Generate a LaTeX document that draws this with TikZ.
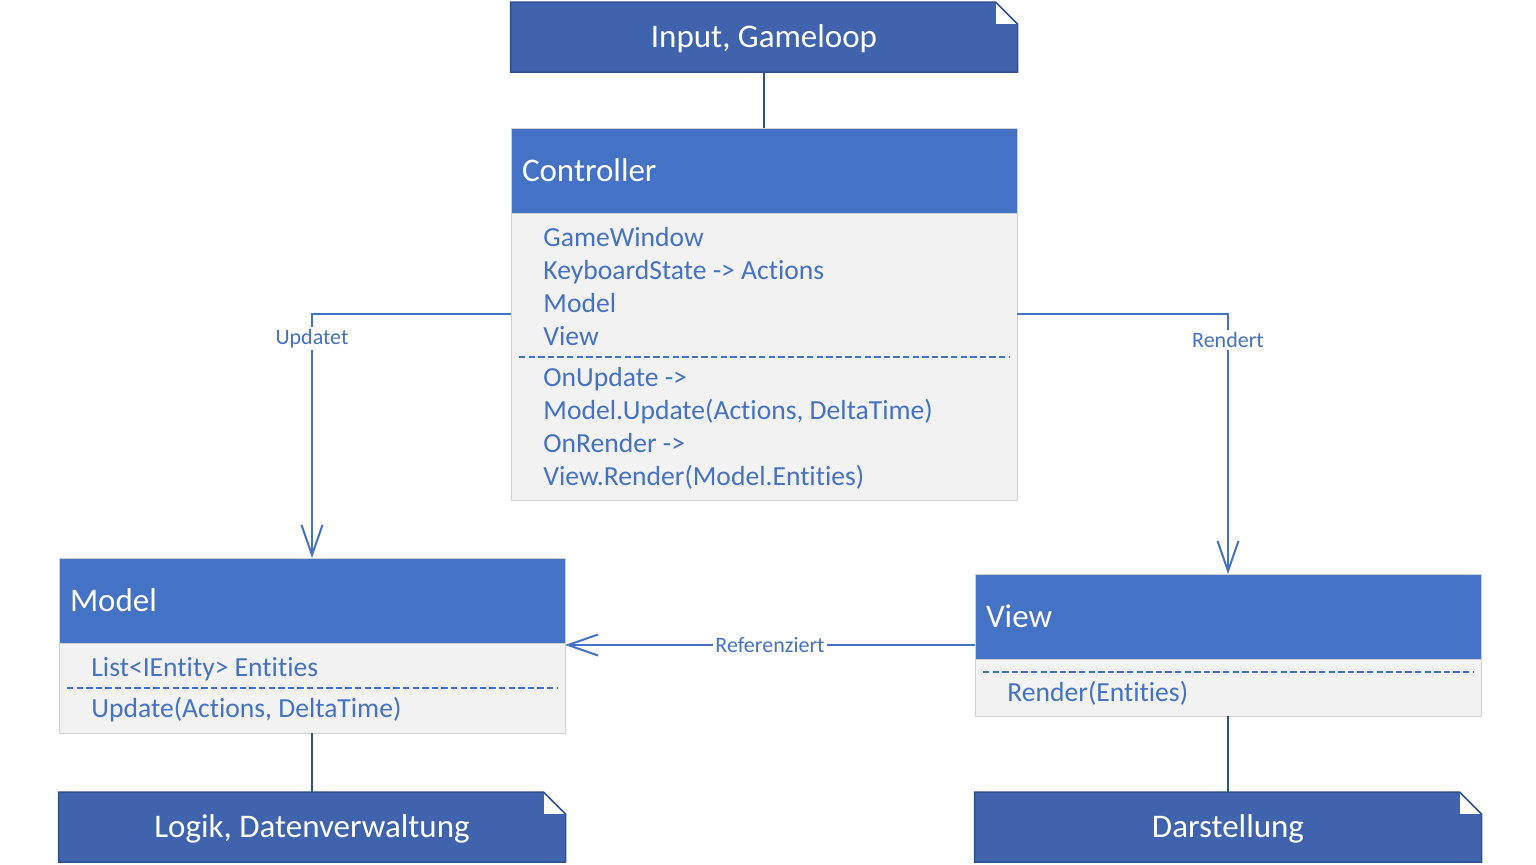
\documentclass[tikz,border=0pt]{standalone}
\usepackage{fontspec}
\setmainfont{Carlito}[Ligatures={TeX,NoCommon}]
\usetikzlibrary{positioning,arrows.meta}
\definecolor{headblue}{HTML}{4472C4}
\definecolor{noteblue}{HTML}{3F64AD}
\definecolor{noteline}{HTML}{2F528F}
\definecolor{bodygray}{HTML}{F2F2F2}
\definecolor{edgegray}{HTML}{D0D0D0}

\begin{document}
\begin{tikzpicture}[x=0.5pt, y=-0.5pt,
    classhead/.style={rectangle, draw=edgegray, fill=headblue, text=white, font=\fontsize{16.5}{19}\selectfont, minimum width=253pt, minimum height=42.5pt, text width=242pt, text height=10.6pt, text depth=0pt, align=left, inner xsep=5.5pt, outer sep=0pt},
    classbody/.style={rectangle, draw=edgegray, fill=bodygray, minimum width=253pt, outer sep=0pt},
    notebox/.style={rectangle, fill=noteblue, text=white, font=\fontsize{16.5}{20}\selectfont, text height=10.6pt, text depth=0pt, minimum width=253.5pt, minimum height=35pt, outer sep=0pt},
    member/.style={anchor=base west, text=headblue, font=\fontsize{13.8}{17}\selectfont, inner sep=0pt},
    dashsep/.style={headblue, line width=1pt, dash pattern=on 3.2pt off 1.6pt},
    conn/.style={headblue, line width=1pt, -{Straight Barb[length=15pt,width=10.5pt]}},
    tie/.style={noteline, line width=0.75pt},
    lbl/.style={fill=white, text=headblue, font=\fontsize{11}{13}\selectfont, inner sep=1pt}
  ]
  \useasboundingbox (0,0) rectangle (1536,864);

  % notes
  \node[notebox] (input) at (764,37) {Input, Gameloop};
  \node[notebox] (logik) at (312,827) {Logik, Datenverwaltung};
  \node[notebox] (darst) at (1228,827) {Darstellung};
  \foreach \n in {input,logik,darst}{
    \fill[white] ([xshift=-11pt]\n.north east) rectangle ([yshift=-11pt]\n.north east);
    \draw[tie] (\n.south west) -- (\n.north west) -- ([xshift=-11pt]\n.north east) -- ([yshift=-11pt]\n.north east) -- (\n.south east) -- cycle;
  }

  % controller
  \node[classhead] (ctrl) at (764,170.5) {Controller};
  \node[classbody, below=0pt of ctrl, minimum height=143.5pt] (ctrlbody) {};
  \foreach \txt [count=\i] in {GameWindow, KeyboardState -> Actions, Model, View}
    \node[member] (ctrlattr\i) at (543,213+33*\i) {\txt};
  \draw[dashsep] ([shift={(4pt,-72pt)}]ctrlbody.north west) -- ([shift={(-4pt,-72pt)}]ctrlbody.north east);
  \foreach \txt [count=\i] in {OnUpdate ->, {Model.Update(Actions, DeltaTime)}, OnRender ->, {View.Render(Model.Entities)}}
    \node[member] (ctrlop\i) at (543,353+33*\i) {\txt};

  % model
  \node[classhead] (model) at (312,600.5) {Model};
  \node[classbody, below=0pt of model, minimum height=45pt] (modelbody) {};
  \node[member] (modelattr) at (91,676) {List<IEntity> Entities};
  \draw[dashsep] ([shift={(4pt,-22.5pt)}]modelbody.north west) -- ([shift={(-4pt,-22.5pt)}]modelbody.north east);
  \node[member] (modelop) at (91,717) {Update(Actions, DeltaTime)};

  % view
  \node[classhead] (view) at (1228,616.5) {View};
  \node[classbody, below=0pt of view, minimum height=28.5pt] (viewbody) {};
  \draw[dashsep] ([shift={(4pt,-6.5pt)}]viewbody.north west) -- ([shift={(-4pt,-6.5pt)}]viewbody.north east);
  \node[member] (viewop) at (1007,701) {Render(Entities)};

  % verbindungen
  \draw[tie] (input.south) -- (ctrl.north);
  \draw[tie] (modelbody.south) -- (logik.north);
  \draw[tie] (viewbody.south) -- (darst.north);
  \draw[conn] ([yshift=-50.5pt]ctrlbody.north west) -| node[lbl, pos=0.55] (updlbl) {Updatet} (model.north);
  \draw[conn] ([yshift=-50.5pt]ctrlbody.north east) -| node[lbl, pos=0.55] (renlbl) {Rendert} (view.north);
  \coordinate (refstart) at ([yshift=7pt]view.south west);
  \draw[conn] (refstart) -- node[lbl] (reflbl) {Referenziert} (refstart -| model.east);
\end{tikzpicture}
\end{document}
